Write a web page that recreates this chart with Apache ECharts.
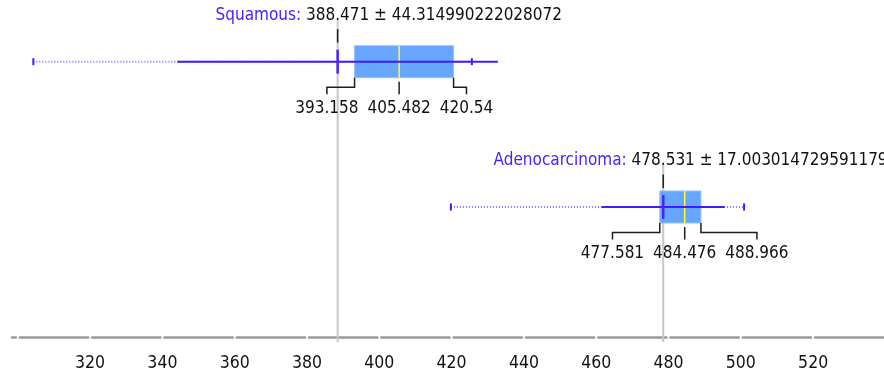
<!DOCTYPE html>
<html>
<head>
<meta charset="utf-8">
<script src="https://cdn.jsdelivr.net/npm/echarts@6/dist/echarts.min.js"></script>
<style>
html,body{margin:0;padding:0;background:#fff}
#main{width:884px;height:377px}
</style>
</head>
<body>
<div id="main"></div>
<script>
// data
var categories = ['Squamous', 'Adenocarcinoma'];
var means = [388.471, 478.531];
var sdTexts = ['44.314990222028072', '17.003014729591179'];
var mins = [304.3, 419.8];
var maxs = [425.6, 500.9];
var q1s = [393.158, 477.581];
var medians = [405.482, 484.476];
var q3s = [420.54, 488.966];
var tickLabels = [320, 340, 360, 380, 400, 420, 440, 460, 480, 500, 520];

var FONT = '"DejaVu Sans Condensed", "DejaVu Sans", sans-serif';
var FS = 17;
var PURPLE = '#3f1cff';

var measureCtx = document.createElement('canvas').getContext('2d');
measureCtx.font = FS + 'px ' + FONT;
function textW(s) { return measureCtx.measureText(s).width; }

function txt(s, x, y, color, align) {
    return {
        type: 'text',
        style: { text: s, x: x, y: y, fill: color, fontSize: FS, fontFamily: FONT,
                 align: align || 'center', verticalAlign: 'middle' }
    };
}
function seg(x1, y1, x2, y2, color, w, dash) {
    return {
        type: 'line',
        shape: { x1: x1, y1: y1, x2: x2, y2: y2 },
        style: { stroke: color, lineWidth: w, lineDash: dash || null }
    };
}
function poly(points) {
    return {
        type: 'polyline',
        shape: { points: points },
        style: { stroke: '#1e1e1e', lineWidth: 1.5, fill: null }
    };
}

function renderBox(params, api) {
    var i = params.dataIndex;
    var px = function (v) { return api.coord([v, i])[0]; };
    var cy = api.coord([means[i], i])[1];
    var axisY = params.coordSys.y + params.coordSys.height;
    var sd = Number(sdTexts[i]);
    var xMean = px(means[i]), xQ1 = px(q1s[i]), xMed = px(medians[i]), xQ3 = px(q3s[i]);
    var kids = [];

    // mean guide line
    kids.push(seg(xMean, cy - 42, xMean, axisY + 5, '#c8c8c8', 2));
    // min..max whisker (dotted) and caps
    kids.push(seg(px(mins[i]), cy, px(maxs[i]), cy, 'rgba(70,40,255,0.65)', 2, [1, 2]));
    kids.push(seg(px(mins[i]), cy - 3.5, px(mins[i]), cy + 3.5, PURPLE, 2));
    kids.push(seg(px(maxs[i]), cy - 3.5, px(maxs[i]), cy + 3.5, PURPLE, 2));
    // quartile box
    kids.push({
        type: 'rect',
        shape: { x: xQ1, y: cy - 16, width: xQ3 - xQ1, height: 32 },
        style: { fill: '#66a6ff', stroke: '#94c0ff', lineWidth: 1 }
    });
    kids.push(seg(xMed, cy - 16, xMed, cy + 16, '#ffff30', 1.5));
    // mean +- sd
    kids.push(seg(px(means[i] - sd), cy, px(means[i] + sd), cy, PURPLE, 2));
    kids.push(seg(xMean, cy - 12, xMean, cy + 12, '#4a24ff', 2.5));

    // mean label above
    kids.push(seg(xMean, cy - 32.5, xMean, cy - 19, '#1e1e1e', 1.5));
    var meanStr = String(means[i]);
    var startX = xMean - textW(meanStr) / 2;
    kids.push(txt(categories[i] + ': ', startX, cy - 46.5, '#4b1fff', 'right'));
    kids.push(txt(meanStr + ' \u00b1 ' + sdTexts[i], startX, cy - 46.5, '#111', 'left'));

    // quartile labels below
    var gap = 9;
    var s1 = String(q1s[i]), sm = String(medians[i]), s3 = String(q3s[i]);
    var wm = textW(sm);
    var c1 = Math.min(xQ1, xMed - wm / 2 - gap - textW(s1) / 2);
    var c3 = Math.max(xQ3, xMed + wm / 2 + gap + textW(s3) / 2);
    kids.push(poly([[xQ1, cy + 16], [xQ1, cy + 25.5], [c1, cy + 25.5], [c1, cy + 32.5]]));
    kids.push(poly([[xMed, cy + 20], [xMed, cy + 32.5]]));
    kids.push(poly([[xQ3, cy + 16], [xQ3, cy + 25.5], [c3, cy + 25.5], [c3, cy + 32.5]]));
    kids.push(txt(s1, c1, cy + 47, '#111'));
    kids.push(txt(sm, xMed, cy + 47, '#111'));
    kids.push(txt(s3, c3, cy + 47, '#111'));

    return { type: 'group', children: kids };
}

var chart = echarts.init(document.getElementById('main'));
chart.setOption({
    animation: false,
    backgroundColor: '#fff',
    grid: { left: 12, right: 0, top: 0, bottom: 40 },
    xAxis: {
        type: 'value',
        min: 298.4,
        max: 539.6,
        axisLine: { show: true, onZero: false,
            lineStyle: { color: '#9b9b9b', width: 2.5, type: [68.3, 4], dashOffset: 64.5 } },
        axisTick: { show: false },
        splitLine: { show: false },
        axisLabel: { customValues: tickLabels, margin: 17, color: '#111',
                     fontSize: 17.5, fontFamily: FONT }
    },
    yAxis: { type: 'value', min: -0.4246, max: 1.8947, inverse: true, show: false },
    series: [{
        type: 'custom',
        clip: false,
        renderItem: renderBox,
        data: categories.map(function (c, i) { return [means[i], i]; })
    }]
});
</script>
</body>
</html>
